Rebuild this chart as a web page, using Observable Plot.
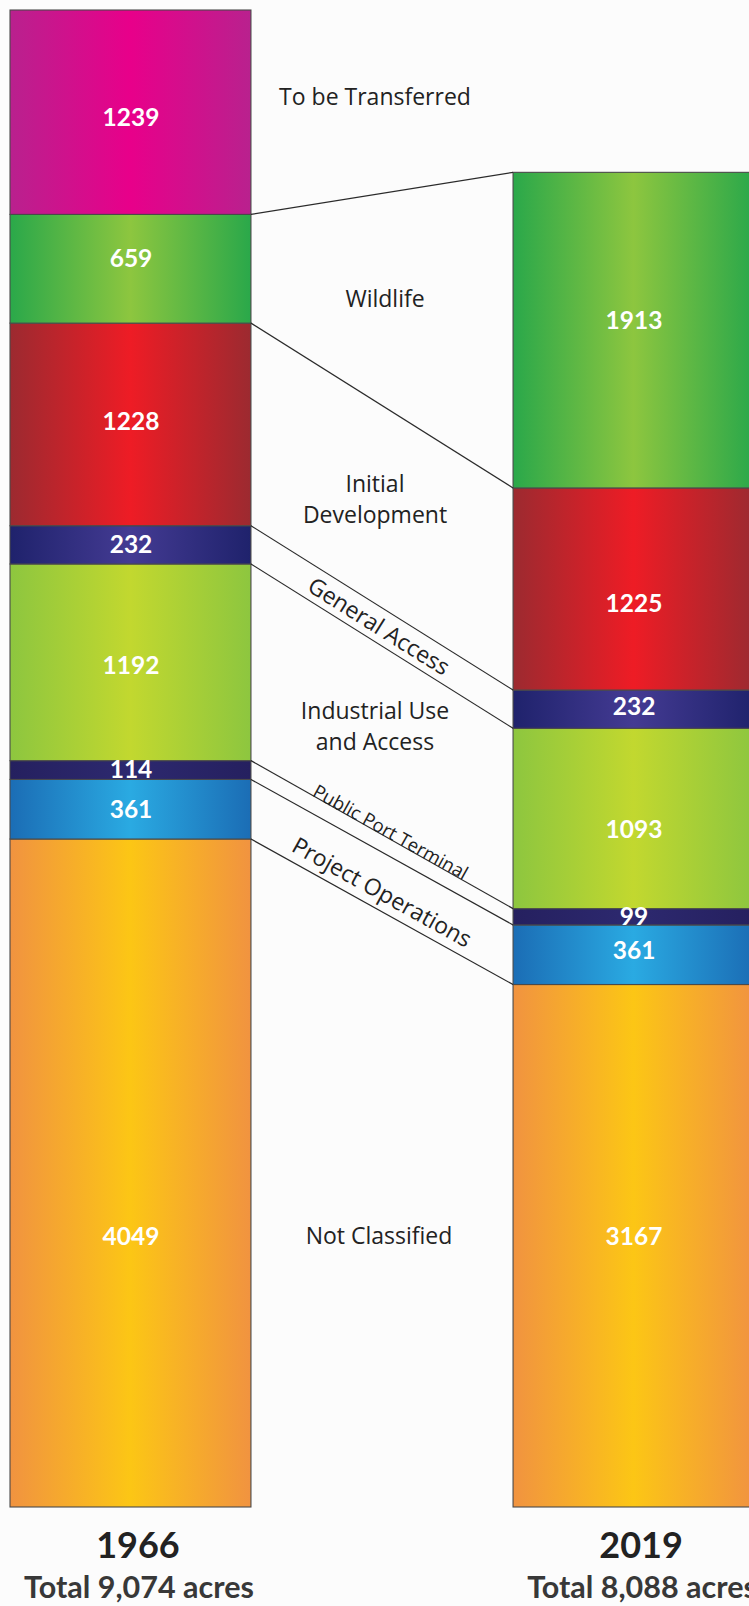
<!DOCTYPE html>
<html>
<head>
<meta charset="utf-8">
<script src="https://cdn.jsdelivr.net/npm/d3@7"></script>
<script src="https://cdn.jsdelivr.net/npm/@observablehq/plot@0.6"></script>
<style>
  html, body { margin: 0; padding: 0; background: #fcfcfc; }
  #chart svg { display: block; overflow: hidden; }
</style>
</head>
<body>
<div id="chart"></div>
<script>
// ---------- data ----------
const years = ["1966", "2019"];
const totalLabels = ["Total 9,074 acres", "Total 8,088 acres"];
// stacked bottom to top
const categories = [
  "Not Classified", "Project Operations", "Public Port Terminal",
  "Industrial Use and Access", "General Access", "Initial Development",
  "Wildlife", "To be Transferred"
];
const midLabels = [
  "Not Classified", "Project Operations", "Public Port Terminal",
  "Industrial Use\nand Access", "General Access", "Initial\nDevelopment",
  "Wildlife", "To be Transferred"
];
const acres1966 = [4049, 361, 114, 1192, 232, 1228, 659, 1239];
const acres2019 = [3167, 361, 99, 1093, 232, 1225, 1913, 0];

// ---------- styles ----------
const edgeColors   = ["#f19340", "#1b6db5", "#25205f", "#8dc63f", "#1f226c", "#9c2a30", "#2aa84a", "#b9218e"];
const centerColors = ["#fcc615", "#2aaae2", "#2d296f", "#c2d82f", "#443b93", "#ee1c25", "#8dc63f", "#e8008a"];
// small vertical nudges (px) of the value labels, as placed in the original
const numNudge1966 = [0, 0, 0, 3, 0, -3, -10, 5];
const numNudge2019 = [0, -4, 0, 11, -3, 15, -9, 0];
const labelStyle = {
  "Not Classified":            {dx: -3, dy: 27},
  "Project Operations":        {rotate: true, along: 5, perp: 9, size: 23},
  "Public Port Terminal":      {rotate: true, along: 2, perp: -14, size: 18.5},
  "Industrial Use and Access": {dx: -7, dy: -14},
  "General Access":            {rotate: true, along: -3, perp: 1, size: 23},
  "Initial Development":       {dx: -7, dy: -7},
  "Wildlife":                  {dx: 3, dy: 0},
  "To be Transferred":         {dx: -7, dy: -15}
};
const numFont = "Lato, 'Open Sans', sans-serif";
const labelFont = "'Open Sans', 'Noto Sans', sans-serif";

// ---------- layout ----------
const W = 749, H = 1606, mTop = 10, mBottom = 99;
const total1966 = d3.sum(acres1966);
const pxPerAcre = (H - mBottom - mTop) / total1966;

// ---------- derived table ----------
const seriesByYear = [acres1966, acres2019];
const nudgeByYear = [numNudge1966, numNudge2019];
const rows = [];
years.forEach((yr, j) => {
  let base = 0;
  seriesByYear[j].forEach((v, i) => {
    rows.push({year: yr, cat: categories[i], ci: i, value: v, y1: base, y2: base + v, nudge: nudgeByYear[j][i]});
    base += v;
  });
});
const segs = rows.filter(d => d.value > 0);
const bottomCat = categories[0];
const segsRegular = segs.filter(d => d.cat !== bottomCat);
const segsBottom = segs.filter(d => d.cat === bottomCat);
const bottomRowY = d3.mean(segsBottom, d => (d.y1 + d.y2) / 2);

// ---------- connectors and middle labels (drawn from Plot's scales) ----------
function connectors(index, scales) {
  const x = scales.x, y = scales.y;
  const bw = x.bandwidth();
  const xL = x(years[0]) + bw, xR = x(years[1]);
  const xm = (xL + xR) / 2;
  const top0 = d3.cumsum(acres1966), top1 = d3.cumsum(acres2019);
  const lineAt = i => ({yL: y(top0[i]), yR: y(top1[i])});
  const g = d3.create("svg:g");

  categories.forEach((c, i) => {
    if (!acres1966[i] || !acres2019[i]) return;
    const {yL, yR} = lineAt(i);
    g.append("line")
      .attr("x1", xL).attr("y1", yL).attr("x2", xR).attr("y2", yR)
      .attr("stroke", "#2a2a2a").attr("stroke-width", 1.2);
  });

  categories.forEach((c, i) => {
    const st = labelStyle[c];
    if (st.rotate) {
      const t = lineAt(i), b = lineAt(i - 1);
      const yc = ((t.yL + t.yR) / 2 + (b.yL + b.yR) / 2) / 2;
      const ang = Math.atan2(((t.yR - t.yL) + (b.yR - b.yL)) / 2, xR - xL) * 180 / Math.PI;
      g.append("text")
        .attr("transform", `translate(${xm},${yc}) rotate(${ang})`)
        .attr("x", st.along).attr("y", st.perp).attr("dy", "0.35em")
        .attr("text-anchor", "middle")
        .attr("font-family", labelFont).attr("font-size", st.size)
        .attr("fill", "#222")
        .text(midLabels[i]);
    } else {
      const mids = rows.filter(d => d.ci === i && d.value > 0).map(d => y((d.y1 + d.y2) / 2));
      const yc = d3.mean(mids) + st.dy;
      const lines = midLabels[i].split("\n");
      const lh = 31;
      const t = g.append("text")
        .attr("text-anchor", "middle")
        .attr("font-family", labelFont).attr("font-size", 23)
        .attr("fill", "#222");
      lines.forEach((ln, k) => {
        t.append("tspan")
          .attr("x", xm + st.dx)
          .attr("y", yc + (k - (lines.length - 1) / 2) * lh)
          .attr("dy", "0.34em")
          .text(ln);
      });
    }
  });
  return g.node();
}

// ---------- plot ----------
const chart = Plot.plot({
  width: W,
  height: H,
  marginTop: mTop,
  marginBottom: mBottom,
  marginLeft: 10,
  marginRight: 0,
  style: {background: "#fcfcfc"},
  x: {type: "band", domain: years, range: [10, 754], paddingInner: 0.521, paddingOuter: 0, round: false, axis: null},
  y: {domain: [0, total1966], axis: null},
  color: {type: "identity"},
  marks: [
    Plot.barY(segs, {
      x: "year", y1: "y1", y2: "y2",
      fill: d => `url(#grad${d.ci})`,
      stroke: "#4a4a4a", strokeWidth: 1.1
    }),
    connectors,
    Plot.text(segsRegular, {
      x: "year", y: d => (d.y1 + d.y2) / 2 - d.nudge / pxPerAcre,
      text: d => String(d.value),
      fill: "white", fontWeight: 700, fontSize: 24.5, fontFamily: numFont
    }),
    Plot.text(segsBottom, {
      x: "year", y: () => bottomRowY, dy: 27,
      text: d => String(d.value),
      fill: "white", fontWeight: 700, fontSize: 24.5, fontFamily: numFont
    }),
    Plot.text(years, {
      x: d => d, frameAnchor: "bottom", lineAnchor: "middle", dy: 39, dx: 7,
      text: d => d,
      fill: "#222", fontWeight: 700, fontSize: 36, fontFamily: numFont
    }),
    Plot.text(years, {
      x: d => d, frameAnchor: "bottom", lineAnchor: "middle", dy: 81, dx: 8,
      text: (d, i) => totalLabels[i],
      fill: "#383838", fontWeight: 700, fontSize: 30.5, fontFamily: numFont
    })
  ]
});

// gradient definitions referenced by the bar fills
const defs = d3.select(chart).insert("defs", ":first-child");
categories.forEach((c, i) => {
  const lg = defs.append("linearGradient").attr("id", "grad" + i)
    .attr("x1", "0").attr("x2", "1").attr("y1", "0").attr("y2", "0");
  lg.append("stop").attr("offset", "0").attr("stop-color", edgeColors[i]);
  lg.append("stop").attr("offset", "0.5").attr("stop-color", centerColors[i]);
  lg.append("stop").attr("offset", "1").attr("stop-color", edgeColors[i]);
});

document.getElementById("chart").appendChild(chart);
</script>
</body>
</html>
